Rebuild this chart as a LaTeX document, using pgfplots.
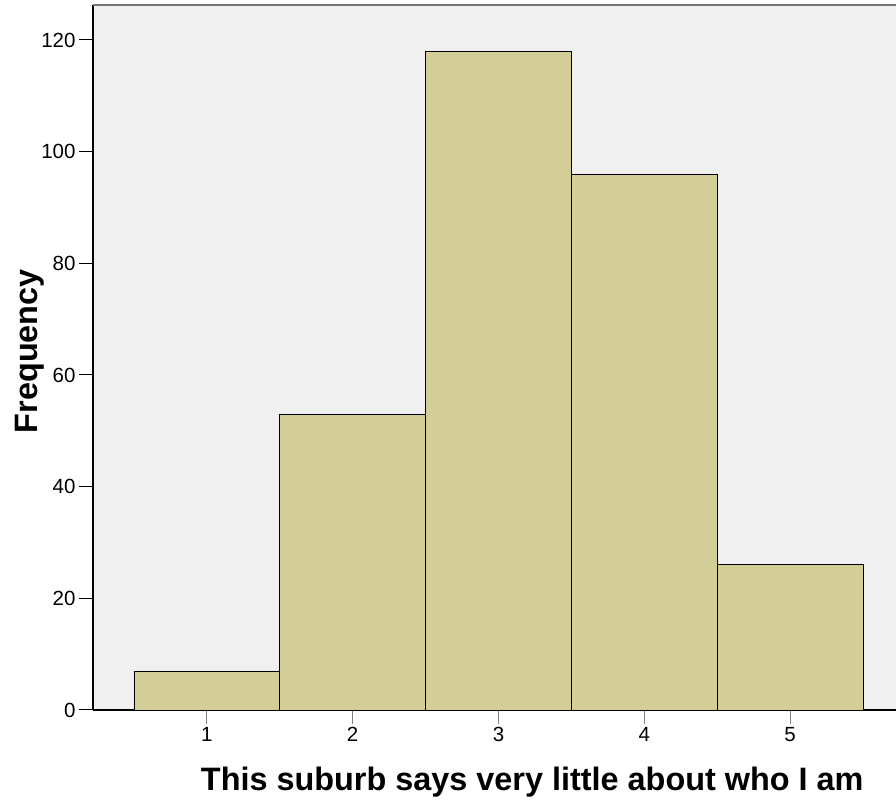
\documentclass[border=0pt]{standalone}
\usepackage{pgfplots}
\pgfplotsset{compat=1.18}
\usepackage{fontspec}
\setmainfont{Liberation Sans}
\definecolor{bg}{HTML}{F0F0F0}
\definecolor{barc}{HTML}{D3CE98}
\begin{document}
\begin{tikzpicture}
\path[use as bounding box] (0,0) rectangle (896pt,802pt);
\begin{axis}[
  at={(93pt,92pt)}, anchor=south west,
  scale only axis, width=803pt, height=705pt,
  xmin=0.219, xmax=5.726, ymin=0, ymax=126.27,
  axis background/.style={fill=bg},
  axis x line*=bottom, axis y line*=left,
  axis line style={black, line width=1.3pt, -},
  xtick={1,2,3,4,5}, ytick={0,20,40,60,80,100,120},
  tick align=outside, major tick length=14pt,
  x tick style={gray, line width=1pt},
  y tick style={black, line width=1pt},
  /pgf/number format/assume math mode=true,
  tick label style={font=\fontsize{20.5}{24}\selectfont},
  xlabel={\textbf{This suburb says very little about who I am}},
  ylabel={\textbf{Frequency}},
  xlabel style={at={(axis description cs:0.547,-0.1135)}, anchor=base, font=\fontsize{32.4}{38}\selectfont},
  ylabel style={at={(axis description cs:-0.0697,0.509)}, anchor=base, rotate=0, font=\fontsize{32.4}{38}\selectfont},
  clip=false,
]
\addplot[ybar, bar width=1, bar shift=0, fill=barc, draw=black, line width=0.8pt]
  coordinates {(1,7) (2,53) (3,118) (4,96) (5,26)};
\draw[gray!90!black, line width=1.5pt] (rel axis cs:0,1) -- (rel axis cs:1,1);
\end{axis}
\end{tikzpicture}
\end{document}
